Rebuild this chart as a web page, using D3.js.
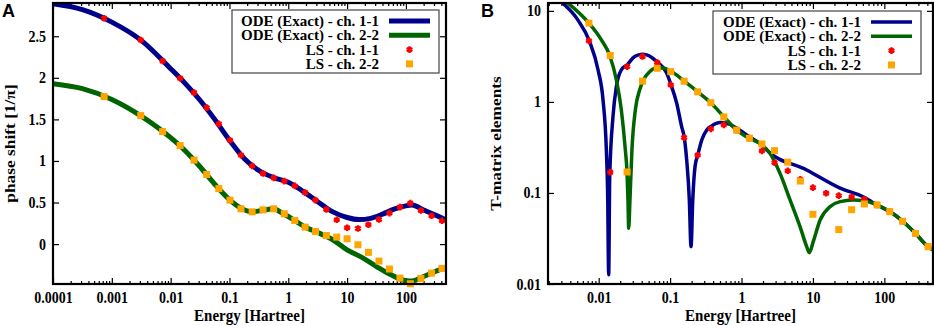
<!DOCTYPE html>
<html>
<head>
<meta charset="utf-8">
<script src="https://cdn.jsdelivr.net/npm/d3@7"></script>
<style>
  body { margin: 0; background: #fff; }
  svg { display: block; }
  text { font-family: "Liberation Serif", "Times New Roman", serif; font-weight: bold; }
</style>
</head>
<body>
<script>
const width = 934
const height = 326

// ---- data ----
// LS (Lippmann-Schwinger) energies, shared by both panels
const lsEnergy = [0.00074, 0.0031, 0.0073, 0.0145, 0.025, 0.041, 0.066, 0.102, 0.157, 0.243,
  0.372, 0.565, 0.855, 1.29, 1.93, 2.9, 4.44, 6.66, 10.0, 15.3, 23.0, 34.8, 52.5, 79, 119, 180, 273, 410]

// panel A: phase shift [1/pi]
const lsPhase11 = [2.716, 2.455, 2.203, 1.995, 1.822, 1.642, 1.446, 1.25, 1.07, 0.941,
  0.849, 0.797, 0.757, 0.70, 0.62, 0.529, 0.416, 0.292, 0.196, 0.188, 0.232, 0.296, 0.373, 0.445, 0.493, 0.404, 0.34, 0.28]
const lsPhase22 = [1.774, 1.546, 1.353, 1.185, 1.01, 0.837, 0.668, 0.529, 0.424, 0.388,
  0.412, 0.424, 0.364, 0.284, 0.204, 0.151, 0.103, 0.084, 0.064, -0.008, -0.1, -0.204, -0.3, -0.409, -0.477, -0.413, -0.349, -0.293]

const odePhaseE11 = [0.0001, 0.000316, 0.001, 0.00316, 0.01, 0.0178, 0.0316, 0.0562, 0.1, 0.178, 0.316, 0.562, 1, 1.78,
  3.16, 5.62, 10, 15.8, 25, 40, 63, 100, 126, 200, 316, 480]
const odePhase11 = [2.89, 2.82, 2.67, 2.45, 2.11, 1.93, 1.73, 1.50, 1.25, 1.03, 0.885, 0.80, 0.745, 0.635,
  0.51, 0.39, 0.32, 0.295, 0.31, 0.36, 0.42, 0.46, 0.47, 0.41, 0.35, 0.29]
const odePhaseE22 = [0.0001, 0.000316, 0.001, 0.00316, 0.01, 0.0178, 0.0316, 0.0562, 0.1, 0.158, 0.24, 0.36, 0.55, 0.8,
  1.25, 2, 3.16, 5.62, 10, 17.8, 31.6, 56, 100, 126, 200, 316, 480]
const odePhase22 = [1.93, 1.87, 1.74, 1.54, 1.28, 1.12, 0.93, 0.72, 0.535, 0.43, 0.39, 0.405, 0.425, 0.37,
  0.29, 0.2, 0.14, 0.055, -0.07, -0.16, -0.27, -0.37, -0.44, -0.445, -0.39, -0.33, -0.28]

// panel B: T-matrix elements
const lsT11 = [null, null, 4.68, 0.169, 2.44, 3.15, 2.70, 1.54, 0.405, 0.26,
  0.505, 0.559, 0.49, 0.40, 0.29, 0.215, 0.175, 0.141, 0.1145, 0.0994, 0.0935, 0.0904, 0.0853, 0.0738, 0.0623, 0.0489, 0.036, 0.0257]
const lsT22 = [null, null, 7.33, 3.23, 0.170, 1.69, 2.34, 2.15, 1.69, 1.29,
  0.98, 0.684, 0.489, 0.399, 0.345, 0.292, 0.218, 0.135, 0.0583, null, 0.0396, 0.0655, 0.0757, 0.0738, 0.0623, 0.0489, 0.036, 0.0257]

const odeTE11 = [0.0025, 0.003, 0.0051, 0.0074, 0.0098, 0.0115, 0.0128, 0.01334, 0.0138, 0.01426, 0.01585, 0.01766,
  0.02075, 0.0249, 0.0319, 0.0408, 0.047, 0.0546, 0.0649, 0.0895, 0.103, 0.1236, 0.145, 0.158, 0.1706, 0.1858, 0.1963,
  0.2075, 0.2234, 0.2438, 0.2773, 0.326, 0.382, 0.5, 0.621, 0.857, 1.32, 1.94, 2.25, 8.18, 24, 52, 66, 79, 119, 181, 272, 409, 482]
const odeT11 = [14.5, 12.6, 7.96, 4.68, 2.24, 1.05, 0.297, 0.1, 0.0126, 0.15, 0.69, 1.47,
  2.25, 2.55, 3.15, 3.34, 3.28, 3.1, 2.77, 2.07, 1.54, 0.97, 0.536, 0.405, 0.231, 0.084, 0.0257,
  0.084, 0.195, 0.26, 0.382, 0.492, 0.545, 0.593, 0.583, 0.514, 0.409, 0.336, 0.297, 0.179, 0.113, 0.0897, 0.0803, 0.0738, 0.0624, 0.0489, 0.036, 0.0257, 0.0237]
const odeTE22 = [0.0025, 0.00352, 0.0073, 0.0109, 0.01426, 0.01766, 0.02075, 0.0236, 0.0249, 0.0257, 0.0263, 0.0274,
  0.0292, 0.0326, 0.0375, 0.0417, 0.0518, 0.0641, 0.0794, 0.103, 0.158, 0.244, 0.371, 0.569, 0.857, 1.29, 1.94, 2.5,
  3.46, 4.78, 6.6, 8.18, 8.9, 10.1, 12.6, 17.4, 24, 36.8, 52, 79, 119, 181, 272, 409, 482]
const odeT22 = [15.5, 12.6, 7.33, 4.8, 3.23, 1.75, 0.817, 0.297, 0.17, 0.084, 0.041, 0.084,
  0.297, 0.817, 1.36, 1.70, 2.15, 2.36, 2.36, 2.17, 1.69, 1.29, 0.98, 0.684, 0.489, 0.397, 0.336, 0.273,
  0.164, 0.084, 0.0427, 0.0257, 0.0221, 0.0292, 0.0505, 0.0708, 0.0803, 0.0837, 0.0822, 0.0738, 0.0624, 0.0489, 0.036, 0.0257, 0.0237]

// ticks
const ticksA_x = [0.0001, 0.001, 0.01, 0.1, 1, 10, 100]
const labelsA_x = ["0.0001", "0.001", "0.01", "0.1", "1", "10", "100"]
const ticksA_y = [0, 0.5, 1, 1.5, 2, 2.5]
const labelsA_y = ["0", "0.5", "1", "1.5", "2", "2.5"]
const ticksB_x = [0.01, 0.1, 1, 10, 100]
const labelsB_x = ["0.01", "0.1", "1", "10", "100"]
const ticksB_y = [0.01, 0.1, 1, 10]
const labelsB_y = ["0.01", "0.1", "1", "10"]

const legendNames = ["ODE (Exact) - ch. 1-1", "ODE (Exact) - ch. 2-2", "LS - ch. 1-1", "LS - ch. 2-2"]

const blue = "#00008b"
const green = "#006400"
const red = "#ff0000"
const orange = "#ffa500"

// the original figure is slightly stretched vertically
const TEXT_STRETCH = 1.12

const svg = d3.select("body").append("svg")
  .attr("width", width)
  .attr("height", height)

// minor ticks for log axes: 2..9 times each decade inside the domain
function minorTicks(scale) {
  const [a, b] = scale.domain()
  let out = []
  for (let d = Math.pow(10, Math.floor(Math.log10(a))); d < b; d *= 10) {
    for (let k = 2; k < 10; k++) {
      let v = d * k
      if (v > a && v < b) out.push(v)
    }
  }
  return out
}

// horizontal text, optionally stretched a little in y like the reference
function label(x, y, str, size, anchor, stretch) {
  return svg.append("text")
    .attr("transform", `translate(${x},${y}) scale(1,${stretch || 1})`)
    .attr("text-anchor", anchor || "start")
    .style("font-size", size + "px")
    .text(str)
}

function drawPanel(opt) {
  const g = svg.append("g")
  const x = opt.x, y = opt.y
  const [x0, x1] = x.range()
  const [y0, y1] = y.range()

  // clip
  const clipId = "clip-" + opt.name
  svg.append("clipPath").attr("id", clipId)
    .append("rect").attr("x", x0).attr("y", y1).attr("width", x1 - x0).attr("height", y0 - y1)

  // axes (inward ticks, mirrored)
  const fmtX = d => opt.xLabels[opt.xTicks.indexOf(d)]
  const fmtY = d => opt.yLabels[opt.yTicks.indexOf(d)]

  const bottom = g.append("g").attr("transform", `translate(0,${y0})`)
    .call(d3.axisBottom(x).tickValues(opt.xTicks).tickFormat(fmtX).tickSize(-6).tickPadding(7))
  g.append("g").attr("transform", `translate(0,${y1})`)
    .call(d3.axisTop(x).tickValues(opt.xTicks).tickFormat("").tickSize(-6))
  g.append("g").attr("transform", `translate(0,${y0})`)
    .call(d3.axisBottom(x).tickValues(minorTicks(x)).tickFormat("").tickSize(-3))
  g.append("g").attr("transform", `translate(0,${y1})`)
    .call(d3.axisTop(x).tickValues(minorTicks(x)).tickFormat("").tickSize(-3))
  const left = g.append("g").attr("transform", `translate(${x0},0)`)
    .call(d3.axisLeft(y).tickValues(opt.yTicks).tickFormat(fmtY).tickSize(-6).tickPadding(7))
  g.append("g").attr("transform", `translate(${x1},0)`)
    .call(d3.axisRight(y).tickValues(opt.yTicks).tickFormat("").tickSize(-6))

  g.selectAll(".domain").remove()
  g.selectAll(".tick line").attr("stroke", "#000").attr("stroke-width", 1.2)
  g.selectAll(".tick text")
    .attr("fill", "#000")
    .style("font-size", "14px")
    .style("font-family", '"Liberation Serif", serif')
    .style("font-weight", "bold")
  bottom.selectAll(".tick text").attr("transform", `scale(1,${TEXT_STRETCH})`)
  left.selectAll(".tick text").attr("transform", `scale(1,${TEXT_STRETCH})`)

  // curves
  const line = d3.line()
    .x(d => x(d[0]))
    .y(d => y(d[1]))
    .curve(d3.curveMonotoneX)
  const curves = svg.append("g").attr("clip-path", `url(#${clipId})`)
  opt.curves.forEach(c => {
    curves.append("path")
      .datum(d3.zip(c.e, c.v))
      .attr("fill", "none")
      .attr("stroke", c.color)
      .attr("stroke-width", opt.lw)
      .attr("stroke-linejoin", "round")
      .attr("d", line)
  })

  // LS points
  const star = d3.symbol(d3.symbolAsterisk, 30)
  svg.append("g").selectAll("path")
    .data(d3.zip(lsEnergy, opt.ls11).filter(d => d[1] != null && d[0] >= x.domain()[0]))
    .join("path")
    .attr("transform", d => `translate(${x(d[0])},${y(d[1])})`)
    .attr("d", star)
    .attr("stroke", red)
    .attr("stroke-width", 2.4)
    .attr("fill", "none")
  svg.append("g").selectAll("rect")
    .data(d3.zip(lsEnergy, opt.ls22).filter(d => d[1] != null && d[0] >= x.domain()[0]))
    .join("rect")
    .attr("x", d => x(d[0]) - 3.5)
    .attr("y", d => y(d[1]) - 3.5)
    .attr("width", 7)
    .attr("height", 7)
    .attr("fill", orange)

  // frame
  svg.append("rect")
    .attr("x", x0).attr("y", y1)
    .attr("width", x1 - x0).attr("height", y0 - y1)
    .attr("fill", "none").attr("stroke", "#000").attr("stroke-width", 2.2)

  // legend
  const L = opt.legend
  svg.append("rect")
    .attr("x", L.x).attr("y", L.y).attr("width", L.w).attr("height", L.h)
    .attr("fill", "#fff").attr("stroke", "#444").attr("stroke-width", 1.2)
  legendNames.forEach((name, i) => {
    const cy = L.y + 11 + i * 14.3
    label(L.textX, cy + 5, name, 15, "end")
    const sx = L.textX + 10, ex = L.textX + 51
    if (i < 2) {
      svg.append("line")
        .attr("x1", sx).attr("x2", ex).attr("y1", cy).attr("y2", cy)
        .attr("stroke", i == 0 ? blue : green).attr("stroke-width", opt.lw)
    } else if (i == 2) {
      svg.append("path")
        .attr("transform", `translate(${(sx + ex) / 2},${cy})`)
        .attr("d", star).attr("stroke", red).attr("stroke-width", 2.4).attr("fill", "none")
    } else {
      svg.append("rect")
        .attr("x", (sx + ex) / 2 - 3.5).attr("y", cy - 3.5)
        .attr("width", 7).attr("height", 7).attr("fill", orange)
    }
  })

  // axis titles
  label((x0 + x1) / 2, 321, "Energy [Hartree]", 15, "middle", TEXT_STRETCH)
  svg.append("text")
    .attr("transform", `translate(${opt.yTitleX},${(y0 + y1) / 2}) rotate(-90) scale(1.12,1)`)
    .attr("text-anchor", "middle")
    .style("font-size", "15.5px")
    .text(opt.yTitle)

  // panel letter
  svg.append("text")
    .attr("x", opt.letterX).attr("y", 17)
    .style("font-family", '"Liberation Sans", Arial, sans-serif')
    .style("font-size", "18px")
    .text(opt.letter)
}

// Panel A
drawPanel({
  name: "a",
  letter: "A", letterX: 2,
  x: d3.scaleLog().domain([0.0001, 480]).range([53, 446]),
  y: d3.scaleLinear().domain([-0.48, 2.9]).range([284, 3]),
  xTicks: ticksA_x, xLabels: labelsA_x,
  yTicks: ticksA_y, yLabels: labelsA_y,
  lw: 5,
  curves: [
    { e: odePhaseE11, v: odePhase11, color: blue },
    { e: odePhaseE22, v: odePhase22, color: green }
  ],
  ls11: lsPhase11, ls22: lsPhase22,
  legend: { x: 232, y: 10, w: 207, h: 63, textX: 379 },
  yTitle: "phase shift [1/\u03c0]", yTitleX: 15
})

// Panel B
drawPanel({
  name: "b",
  letter: "B", letterX: 481,
  x: d3.scaleLog().domain([0.00195, 480]).range([548, 933]),
  y: d3.scaleLog().domain([0.01, 12.2]).range([284, 3]),
  xTicks: ticksB_x, xLabels: labelsB_x,
  yTicks: ticksB_y, yLabels: labelsB_y,
  lw: 3.5,
  curves: [
    { e: odeTE11, v: odeT11, color: blue },
    { e: odeTE22, v: odeT22, color: green }
  ],
  ls11: lsT11, ls22: lsT22,
  legend: { x: 713, y: 11, w: 208, h: 63, textX: 861 },
  yTitle: "T-matrix elements", yTitleX: 501
})
</script>
</body>
</html>
